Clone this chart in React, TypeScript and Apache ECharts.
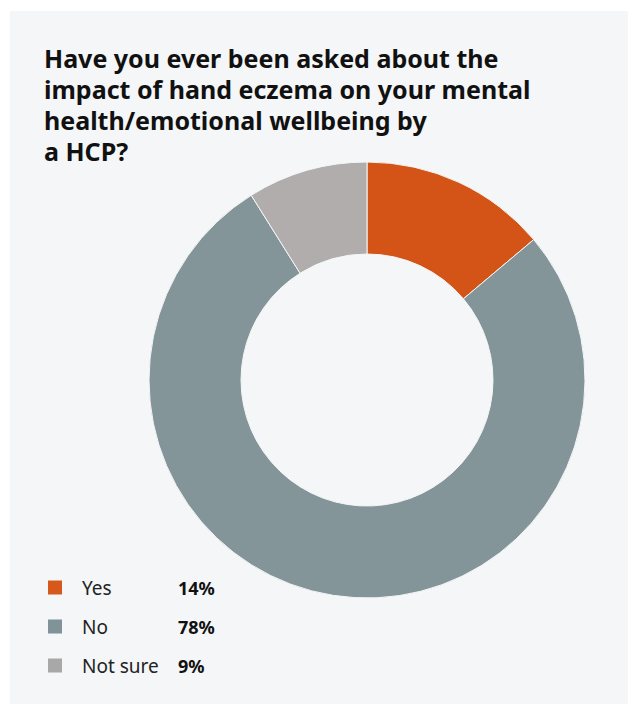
import React, { useEffect, useRef } from "react";
import * as echarts from "echarts";

const titleLines = [
  "Have you ever been asked about the",
  "impact of hand eczema on your mental",
  "health/emotional wellbeing by",
  "a HCP?",
];
const categories = ["Yes", "No", "Not sure"];
const values = [14, 78, 9];
const sliceColors = ["#D35416", "#84959A", "#B0ADAC"];
const legendColors = ["#D6581A", "#7F9399", "#A8A8A8"];

export default function App() {
  const ref = useRef<HTMLDivElement>(null);
  useEffect(() => {
    if (!ref.current) return;
    const chart = echarts.init(ref.current, undefined, { renderer: "svg" });
    const pct: Record<string, number> = {};
    categories.forEach((c, i) => (pct[c] = values[i]));
    chart.setOption({
      animation: false,
      backgroundColor: "transparent",
      title: {
        text: titleLines.join("\n"),
        left: 34,
        top: 31,
        padding: 0,
        textStyle: {
          fontFamily: "Noto Sans",
          fontWeight: "bold",
          fontSize: 25,
          lineHeight: 31,
          color: "#111111",
        },
      },
      legend: {
        orient: "vertical",
        left: 36,
        top: 567,
        padding: 0,
        itemWidth: 16,
        itemHeight: 16,
        itemGap: 20,
        icon: "rect",
        selectedMode: false,
        data: categories.map((c, i) => ({
          name: c,
          itemStyle: { color: legendColors[i] },
        })),
        formatter: (name: string) => `{n|${name}}{v|${pct[name]}%}`,
        textStyle: {
          fontFamily: "Noto Sans",
          fontSize: 19,
          color: "#1a1a1a",
          padding: [0, 0, 0, 14],
          rich: {
            n: { fontFamily: "Noto Sans", fontSize: 19, color: "#222222", width: 96, lineHeight: 18 },
            v: { fontFamily: "Noto Sans", fontSize: 18, fontWeight: "bold", color: "#111111", lineHeight: 18 },
          },
        },
      },
      series: [
        {
          type: "pie",
          center: [357, 369],
          radius: [126, 218],
          startAngle: 90,
          clockwise: true,
          label: { show: false },
          labelLine: { show: false },
          emphasis: { disabled: true },
          itemStyle: { borderColor: "#F4F6F8", borderWidth: 1 },
          data: categories.map((c, i) => ({
            name: c,
            value: values[i],
            itemStyle: { color: sliceColors[i] },
          })),
        },
      ],
    });
    return () => chart.dispose();
  }, []);
  return (
    <div style={{ position: "fixed", left: 0, top: 0, width: 628, height: 704, background: "#ffffff" }}>
      <div
        ref={ref}
        style={{ position: "absolute", left: 10, top: 11, width: 618, height: 693, background: "#F4F6F8" }}
      />
    </div>
  );
}
